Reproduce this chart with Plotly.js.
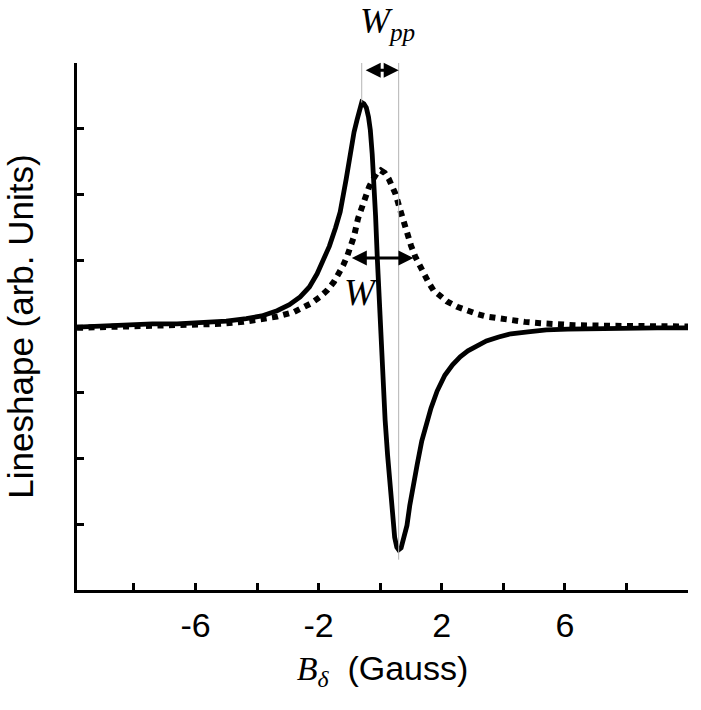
<!DOCTYPE html>
<html>
<head>
<meta charset="utf-8">
<script src="https://cdn.plot.ly/plotly-3.0.1.min.js"></script>
<style>
  body { margin: 0; background: #fff; }
  #plot { width: 701px; height: 710px; }
</style>
</head>
<body>
<div id="plot"></div>
<script>
// derivative of the absorption line (solid)
var derivX = [-9.85, -9.0, -8.2, -7.4, -6.6, -5.75, -5.0, -4.35, -3.85, -3.35, -2.95, -2.6, -2.3, -2.05,
  -1.85, -1.65, -1.45, -1.3, -1.1, -0.95, -0.85, -0.75, -0.68, -0.6, -0.53, -0.45, -0.38, -0.32, -0.26,
  -0.21, -0.15, -0.09, -0.03, 0.03, 0.08, 0.16, 0.24, 0.32, 0.4, 0.47, 0.54, 0.6, 0.68, 0.76, 0.87, 0.96,
  1.05, 1.2, 1.35, 1.5, 1.65, 1.85, 2.1, 2.35, 2.6, 2.85, 3.1, 3.45, 3.85, 4.25, 4.8, 5.4, 6.1, 7.0, 8.0, 9.0, 10.0];
var derivY = [-0.01, 0.01, 0.02, 0.04, 0.04, 0.06, 0.08, 0.12, 0.16, 0.24, 0.33, 0.45, 0.6, 0.8,
  1.0, 1.22, 1.5, 1.74, 2.25, 2.68, 2.95, 3.14, 3.28, 3.40, 3.38, 3.32, 3.18, 2.98, 2.62,
  2.3, 1.68, 1.0, 0.32, -0.2, -0.55, -1.42, -1.95, -2.43, -2.92, -3.2, -3.35, -3.39, -3.36, -3.24, -3.02, -2.72,
  -2.45, -2.1, -1.74, -1.48, -1.24, -0.98, -0.74, -0.58, -0.46, -0.37, -0.3, -0.22, -0.16, -0.11, -0.08, -0.05, -0.04, -0.03, -0.02, -0.02, -0.02];

// absorption line (dotted)
var absX = [-9.85, -9.0, -8.2, -7.3, -6.1, -5.2, -4.45, -3.9, -3.35, -2.8, -2.25, -1.95, -1.72, -1.5, -1.33,
  -1.2, -1.07, -0.95, -0.85, -0.72, -0.6, -0.48, -0.36, -0.25, -0.12, 0.02, 0.15, 0.28, 0.4, 0.5, 0.63,
  0.75, 0.87, 1.0, 1.14, 1.27, 1.41, 1.57, 1.73, 1.95, 2.17, 2.5, 2.82, 3.15, 3.47, 3.85, 4.22, 4.7, 5.2,
  5.75, 6.3, 7.6, 8.8, 10.0];
var absY = [-0.02, -0.01, 0.0, 0.01, 0.02, 0.04, 0.07, 0.1, 0.15, 0.22, 0.35, 0.45, 0.55, 0.68, 0.81,
  0.93, 1.07, 1.22, 1.37, 1.64, 1.82, 1.98, 2.12, 2.22, 2.32, 2.37, 2.33, 2.24, 2.12, 2.01, 1.80,
  1.6, 1.41, 1.23, 1.06, 0.93, 0.81, 0.67, 0.55, 0.46, 0.38, 0.3, 0.24, 0.19, 0.15, 0.12, 0.09, 0.07, 0.05,
  0.03, 0.02, 0.01, 0.0, 0.0];

// axis ticks
var xTickVals = [-8, -6, -4, -2, 0, 2, 4, 6, 8, 10];
var xTickText = ["", "-6", "", "-2", "", "2", "", "6", "", ""];
var yTickVals = [-4, -3, -2, -1, 0, 1, 2, 3, 4];

// width markers
var wHalf = [-0.97, 1.08];   // FWHM arrow ends
var wHalfY = 1.04;

// peak-to-peak positions come from the derivative curve itself
var iMax = derivY.indexOf(Math.max.apply(null, derivY));
var iMin = derivY.indexOf(Math.min.apply(null, derivY));
var xPeak = derivX[iMax], xTrough = derivX[iMin];

var serif = "Liberation Serif, Times New Roman, serif";
var sans = "Liberation Sans, Arial, sans-serif";

var absorption = {
  x: absX, y: absY, mode: "lines",
  line: {color: "black", width: 6, dash: "6px,5.5px"},
  hoverinfo: "skip"
};
var derivative = {
  x: derivX, y: derivY, mode: "lines",
  line: {color: "black", width: 4.8},
  hoverinfo: "skip"
};

var layout = {
  width: 701, height: 710,
  margin: {l: 77, r: 13, t: 63, b: 120},
  showlegend: false,
  paper_bgcolor: "white", plot_bgcolor: "white",
  xaxis: {
    range: [-9.85, 10],
    showgrid: false, zeroline: false,
    showline: true, linecolor: "black", linewidth: 3,
    ticks: "inside", ticklen: 7, tickwidth: 3, tickcolor: "black",
    tickvals: xTickVals, ticktext: xTickText,
    tickfont: {family: sans, size: 34, color: "black"},
    ticklabelstandoff: 3,
    title: {
      text: '<span style="font-family:' + serif + '"><i>B<sub>δ</sub></i></span>&nbsp; (Gauss)',
      font: {family: sans, size: 34, color: "black"},
      standoff: 14
    }
  },
  yaxis: {
    range: [-4, 4],
    showgrid: false, zeroline: false,
    showline: true, linecolor: "black", linewidth: 3,
    ticks: "inside", ticklen: 7, tickwidth: 3, tickcolor: "black",
    tickvals: yTickVals, showticklabels: false,
    title: {
      text: "Lineshape (arb. Units)",
      font: {family: sans, size: 35, color: "black"},
      standoff: 30
    }
  },
  shapes: [
    {type: "line", xref: "x", yref: "y", x0: xPeak, x1: xPeak, y0: 4.05, y1: derivY[iMax],
     line: {color: "#b4b4b4", width: 1}},
    {type: "line", xref: "x", yref: "y", x0: xTrough, x1: xTrough, y0: 4.05, y1: -3.54,
     line: {color: "#b4b4b4", width: 1}}
  ],
  annotations: [
    // Wpp double arrow
    {x: xTrough, y: 3.89, ax: xPeak + 0.08, ay: 3.89, xref: "x", yref: "y", axref: "x", ayref: "y",
     text: "", showarrow: true, arrowside: "end+start", arrowhead: 2, startarrowhead: 2,
     arrowsize: 1, startarrowsize: 1, arrowwidth: 3, arrowcolor: "black", standoff: 0, startstandoff: 0},
    // W double arrow
    {x: wHalf[1], y: wHalfY, ax: wHalf[0], ay: wHalfY, xref: "x", yref: "y", axref: "x", ayref: "y",
     text: "", showarrow: true, arrowside: "end+start", arrowhead: 2, startarrowhead: 2,
     arrowsize: 1, startarrowsize: 1, arrowwidth: 3, arrowcolor: "black", standoff: 0, startstandoff: 0},
    {x: -0.62, y: 0.52, xref: "x", yref: "y", text: "<i>W</i>", showarrow: false,
     font: {family: serif, size: 37, color: "black"}},
    {x: -0.72, y: 1.0, xref: "x", yref: "paper", xanchor: "left", yanchor: "bottom", yshift: 15,
     text: "<i>W<sub>pp</sub></i>", showarrow: false,
     font: {family: serif, size: 36, color: "black"}}
  ]
};

Plotly.newPlot("plot", [absorption, derivative], layout, {staticPlot: true});
</script>
</body>
</html>
